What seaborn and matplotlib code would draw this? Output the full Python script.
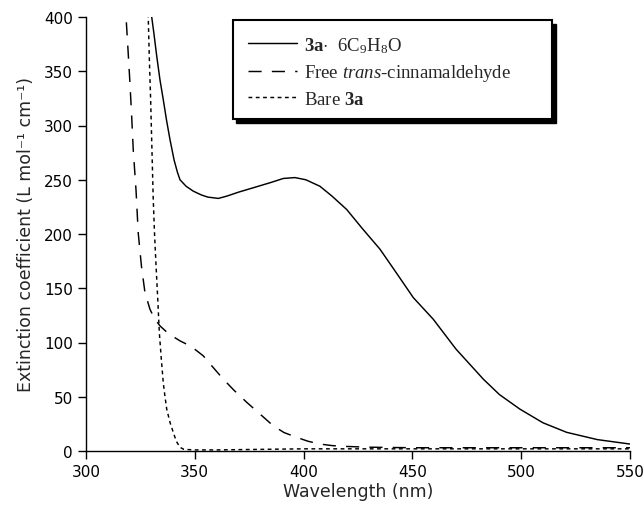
import matplotlib
matplotlib.use("Agg")
import matplotlib.pyplot as plt
from matplotlib.patches import Rectangle
import numpy as np
import pandas as pd
import seaborn as sns

# ---- data ----
wl_complex = [329.5, 330.2, 331.2, 332.5, 334.0, 335.5, 337.0, 338.6, 340.5, 342.0, 343.2, 346, 349.3,
              353, 356, 360.8, 364.7, 370, 375, 380, 385, 390.7, 396, 401, 407.5, 413, 419.8,
              427, 435.1, 442, 450.4, 459.6, 470, 482.6, 490, 499.4, 510, 520.9, 535, 550]
eps_complex = [420, 400, 385, 364, 342, 324, 305, 287, 268, 257, 250, 244, 239.5,
               236, 234, 232.8, 234.9, 238.5, 241.5, 244.5, 247.5, 251.2, 252, 250, 244, 235, 222.6,
               205, 186, 166, 141.4, 121.4, 94, 66.2, 52, 38.6, 26, 17.2, 10.5, 6.4]

wl_free = [318, 318.4, 319.3, 320.2, 321.0, 321.7, 323.0, 324, 325.5, 327.1, 329.4, 331.5, 334,
           338, 343.2, 347.8, 350.5, 353.9, 358, 363.1, 368, 373.9, 380, 386, 391, 396.8, 402,
           407.5, 413, 418.2, 430, 450, 470, 490, 510, 530, 550]
eps_free = [420, 400, 370, 339, 308, 278, 240, 201, 170, 146, 130.6, 122, 115.3,
            108, 101.5, 96.9, 93, 87.7, 78, 66.2, 56, 44.8, 34, 23.3, 17, 12.6, 9,
            6.4, 5, 4.3, 3.5, 3, 3, 3, 3, 3, 3]

wl_bare = [328.3, 328.6, 329.1, 329.7, 330.3, 330.9, 331.5, 332.2, 333.0, 333.7, 334.6, 335.5,
           336.3, 337.1, 338.6, 340.1, 341.5, 343.2, 345, 350, 360, 380, 400, 450, 500, 550]
eps_bare = [420, 400, 362, 324, 278, 232, 200, 170.5, 139, 109, 85, 63.2,
            50, 38.6, 26.4, 17.2, 9, 3.4, 1.5, 1, 1, 1.5, 2, 2, 2, 2]

series_names = ["complex", "free", "bare"]
legend_labels = [r"$\mathbf{3a}$$\cdot$  6C$_{9}$H$_{8}$O",
                 r"Free $\mathit{trans}$-cinnamaldehyde",
                 r"Bare $\mathbf{3a}$"]
x_ticks = [300, 350, 400, 450, 500, 550]
y_ticks = [0, 50, 100, 150, 200, 250, 300, 350, 400]
x_label = "Wavelength (nm)"
y_label = "Extinction coefficient (L mol\u207b\u00b9 cm\u207b\u00b9)"

df = pd.concat([
    pd.DataFrame({"wl": wl_complex, "eps": eps_complex, "series": series_names[0]}),
    pd.DataFrame({"wl": wl_free, "eps": eps_free, "series": series_names[1]}),
    pd.DataFrame({"wl": wl_bare, "eps": eps_bare, "series": series_names[2]}),
], ignore_index=True)

# ---- style ----
sns.set_style("ticks")
plt.rcParams["font.family"] = ["DejaVu Sans"]
plt.rcParams["mathtext.fontset"] = "custom"
plt.rcParams["mathtext.rm"] = "Liberation Serif"
plt.rcParams["mathtext.it"] = "Liberation Serif:italic"
plt.rcParams["mathtext.bf"] = "Liberation Serif:bold"

fig = plt.figure(figsize=(6.44, 5.10), dpi=100)
ax = fig.add_axes([86 / 644, 1 - 452 / 510, 544 / 644, 434 / 510])

dash_map = {"complex": "", "free": (9, 7), "bare": (2.6, 2.4)}
sns.lineplot(data=df, x="wl", y="eps", style="series", style_order=series_names,
             dashes=dash_map, color="black", linewidth=1.05, estimator=None,
             sort=False, ax=ax, legend=True)

ax.set_xlim(300, 550)
ax.set_ylim(0, 400)
ax.set_xticks(x_ticks)
ax.set_yticks(y_ticks)
ax.tick_params(axis="both", direction="out", length=5.5, width=1, colors="black",
               labelsize=11, pad=4)
for s in ["left", "bottom"]:
    ax.spines[s].set_linewidth(1)
    ax.spines[s].set_color("black")
sns.despine(ax=ax)
ax.set_xlabel(x_label, fontsize=12.5, labelpad=2)
ax.set_ylabel(y_label, fontsize=12.5, labelpad=6)

# ---- legend with shadowed box ----
handles, _ = ax.get_legend_handles_labels()
handles = handles[-3:]
x0, x1 = (233 - 86) / 544, (552 - 86) / 544
yt, yb = (452 - 21) / 434, (452 - 120) / 434
dx, dy = 3.5 / 544, 3.5 / 434
ax.add_patch(Rectangle((x0 + dx, yb - dy), x1 - x0, yt - yb, transform=ax.transAxes,
                       facecolor="black", edgecolor="black", lw=1, zorder=4, clip_on=False))
ax.add_patch(Rectangle((x0, yb), x1 - x0, yt - yb, transform=ax.transAxes,
                       facecolor="white", edgecolor="black", lw=1.5, zorder=5, clip_on=False))
leg = ax.legend(handles, legend_labels, loc="upper left", bbox_to_anchor=(x0, yt),
                frameon=False, prop={"family": "Liberation Serif", "size": 13.5},
                handlelength=2.6, handletextpad=0.4, borderpad=0.8, labelspacing=0.4,
                borderaxespad=0)
leg.set_zorder(6)

fig.savefig("out.png", dpi=100)
